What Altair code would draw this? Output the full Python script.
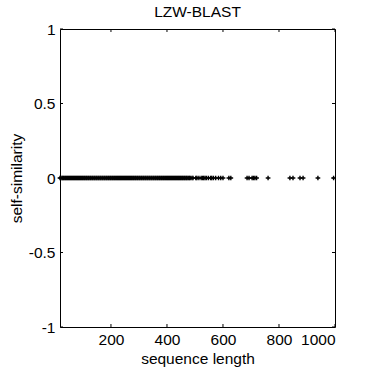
import altair as alt
import pandas as pd

# sequence lengths of the plotted sequences (x) — all have self-similarity 0
lengths = [
    18, 21, 25, 28, 31, 35, 38, 42, 45, 49, 52, 56, 59, 63, 66, 70, 73, 77, 80, 84,
    87, 91, 94, 98, 101, 105, 108, 112, 115, 119, 122, 126, 129, 133, 136, 140, 143,
    147, 150, 154, 157, 161, 164, 168, 171, 175, 178, 182, 185, 189, 192, 196, 199,
    203, 206, 210, 213, 217, 220, 224, 227, 231, 234, 238, 241, 245, 248, 252, 255,
    259, 262, 266, 269, 273, 276, 280, 283, 287, 290, 294, 297, 301, 304, 308, 311,
    315, 318, 322, 325, 329, 332, 336, 339, 343, 346, 350, 353, 357, 360, 364, 367,
    371, 374, 378, 381, 385, 388, 392, 395, 399, 402, 406, 409, 413, 416, 420, 423,
    427, 430, 434, 437, 441, 444, 448, 451, 455, 458, 462, 465, 469, 472, 476, 480,
    483, 489, 493, 503, 507, 514, 522, 527, 531, 536, 541, 548, 556, 560, 566, 574,
    584, 592, 600, 621, 628, 686, 693, 704, 709, 714, 720, 761, 839, 850, 875, 886,
    939, 995,
]
similarity = [0.0 for _ in lengths]

x_ticks = [200, 400, 600, 800, 1000]
y_ticks = [-1, -0.5, 0, 0.5, 1]
x_domain = [18, 1000]
y_domain = [-1, 1]

W, H = 275, 298
TL = 3
FONT = "Liberation Sans"
FS = 15.5

df = pd.DataFrame({"length": lengths, "similarity": similarity})
xt = pd.DataFrame({"length": x_ticks})
yt = pd.DataFrame({"similarity": y_ticks})

xs = alt.Scale(domain=x_domain, nice=False, zero=False)
ys = alt.Scale(domain=y_domain, nice=False, zero=False)

x_axis = alt.Axis(title="sequence length", values=x_ticks, format="d",
                  labelPadding=5, titlePadding=4)
y_axis = alt.Axis(title="self-similarity", values=y_ticks,
                  labelExpr="toString(datum.value)", labelPadding=5, titlePadding=4)

points = alt.Chart(df).mark_point(
    shape="M-1,0L1,0M0,-1L0,1", filled=False, color="black",
    strokeWidth=1.4, size=22, opacity=1,
).encode(
    x=alt.X("length:Q", scale=xs, axis=x_axis),
    y=alt.Y("similarity:Q", scale=ys, axis=y_axis),
)

xb = alt.Chart(xt).mark_rule(color="black", strokeWidth=1).encode(
    x=alt.X("length:Q", scale=xs, axis=x_axis), y=alt.value(H), y2=alt.value(H - TL))
xtop = alt.Chart(xt).mark_rule(color="black", strokeWidth=1).encode(
    x=alt.X("length:Q", scale=xs, axis=x_axis), y=alt.value(0), y2=alt.value(TL))
yl = alt.Chart(yt).mark_rule(color="black", strokeWidth=1).encode(
    y=alt.Y("similarity:Q", scale=ys, axis=y_axis), x=alt.value(0), x2=alt.value(TL))
yr = alt.Chart(yt).mark_rule(color="black", strokeWidth=1).encode(
    y=alt.Y("similarity:Q", scale=ys, axis=y_axis), x=alt.value(W), x2=alt.value(W - TL))

chart = alt.layer(points, xb, xtop, yl, yr).properties(
    width=W, height=H,
    title=alt.TitleParams("LZW-BLAST", fontSize=FS, font=FONT, fontWeight="normal",
                          baseline="alphabetic", offset=4, dy=14, anchor="middle",
                          color="black"),
    autosize=alt.AutoSizeParams(type="none"),
    padding={"left": 60, "top": 29, "right": 35, "bottom": 43},
    background="white",
).configure_view(
    stroke="black", strokeWidth=1,
).configure_axis(
    domain=False, ticks=False, grid=False,
    labelFont=FONT, labelFontSize=FS, labelColor="black",
    titleFont=FONT, titleFontSize=FS, titleFontWeight="normal", titleColor="black",
)

chart.save("out.html", embed_options={"renderer": "svg", "actions": False})
